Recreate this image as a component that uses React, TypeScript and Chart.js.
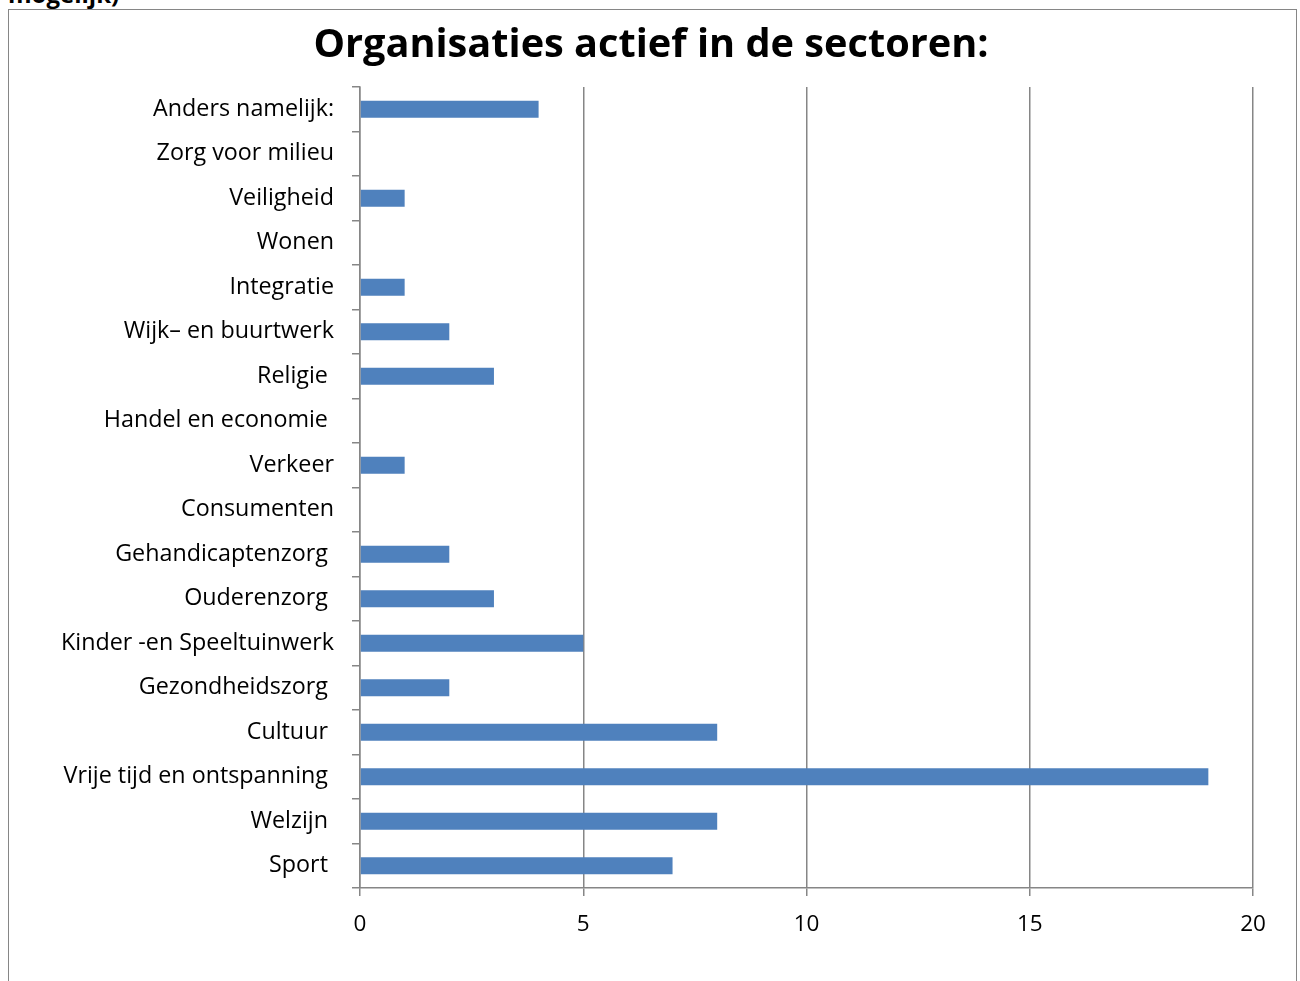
import React, { useEffect, useRef } from "react";
import { Chart, registerables } from "chart.js";

Chart.register(...registerables);

const categories: string[] = [
  "Anders namelijk:",
  "Zorg voor milieu",
  "Veiligheid",
  "Wonen",
  "Integratie",
  "Wijk– en buurtwerk",
  "Religie ",
  "Handel en economie ",
  "Verkeer",
  "Consumenten",
  "Gehandicaptenzorg ",
  "Ouderenzorg ",
  "Kinder -en Speeltuinwerk",
  "Gezondheidszorg ",
  "Cultuur ",
  "Vrije tijd en ontspanning ",
  "Welzijn ",
  "Sport ",
];

const counts: number[] = [4, 0, 1, 0, 1, 2, 3, 0, 1, 0, 2, 3, 5, 2, 8, 19, 8, 7];

const titleText = "Organisaties actief in de sectoren:";
const clippedHeading = "mogelijk)";

const FONT = "'Open Sans', Lato, sans-serif";
const GRAY = "#868686";
const BLUE = "#4F81BD";

export default function App() {
  const canvasRef = useRef<HTMLCanvasElement | null>(null);

  useEffect(() => {
    const canvas = canvasRef.current;
    if (!canvas) return;
    const chart = new Chart(canvas, {
      type: "bar",
      data: {
        labels: categories,
        datasets: [
          {
            data: counts,
            backgroundColor: BLUE,
            borderWidth: 0,
            categoryPercentage: 1,
            barPercentage: 0.38,
          },
        ],
      },
      options: {
        indexAxis: "y",
        animation: false,
        responsive: false,
        maintainAspectRatio: false,
        layout: { padding: { top: 87, right: 47, bottom: 0, left: 0 } },
        plugins: {
          legend: { display: false },
          tooltip: { enabled: false },
          title: { display: false },
        },
        scales: {
          x: {
            min: 0,
            max: 20,
            ticks: {
              stepSize: 5,
              color: "#000",
              font: { family: FONT, size: 22.5 },
              padding: 15,
            },
            grid: {
              color: GRAY,
              lineWidth: 1.5,
              drawTicks: true,
              tickLength: 8,
            },
            border: { display: true, color: GRAY, width: 1.5 },
            afterFit: (s: any) => {
              s.height = 93;
            },
          },
          y: {
            ticks: {
              color: "#000",
              font: { family: FONT, size: 23.3 },
              padding: 18,
              autoSkip: false,
            },
            grid: {
              offset: true,
              drawOnChartArea: false,
              drawTicks: true,
              tickLength: 8,
              color: GRAY,
              lineWidth: 1.5,
            },
            border: { display: true, color: GRAY, width: 1.5 },
            afterFit: (s: any) => {
              s.width = 360;
            },
          },
        },
      },
    });
    return () => chart.destroy();
  }, []);

  return (
    <div style={{ position: "absolute", left: 0, top: 0, width: 1300, height: 981, overflow: "hidden", background: "#fff" }}>
      <div
        style={{
          position: "absolute",
          left: 8,
          top: -18,
          fontFamily: FONT,
          fontWeight: "bold",
          fontSize: 24,
          lineHeight: "24px",
          color: "#000",
          whiteSpace: "nowrap",
        }}
      >
        {clippedHeading}
      </div>
      <div
        style={{
          position: "absolute",
          left: 8,
          top: 9,
          width: 1287,
          height: 1000,
          border: `1.5px solid ${GRAY}`,
        }}
      />
      <canvas ref={canvasRef} width={1300} height={981} style={{ position: "absolute", left: 0, top: 0 }} />
      <div
        style={{
          position: "absolute",
          left: 0,
          width: 1302,
          top: 18,
          textAlign: "center",
          fontFamily: FONT,
          fontWeight: "bold",
          fontSize: 39.7,
          lineHeight: "48px",
          color: "#000",
          whiteSpace: "nowrap",
        }}
      >
        {titleText}
      </div>
    </div>
  );
}
